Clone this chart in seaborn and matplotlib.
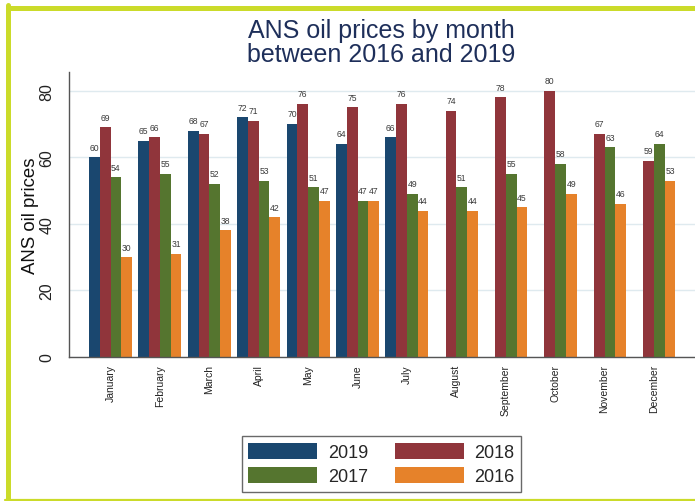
import matplotlib
matplotlib.use("Agg")
import matplotlib.pyplot as plt
from matplotlib.lines import Line2D
import numpy as np
import pandas as pd
import seaborn as sns

sns.set_style("white")
plt.rcParams["font.family"] = ["Liberation Sans", "DejaVu Sans"]

months = ["January", "February", "March", "April", "May", "June", "July",
          "August", "September", "October", "November", "December"]
years = ["2019", "2018", "2017", "2016"]
p2019 = [60, 65, 68, 72, 70, 64, 66, np.nan, np.nan, np.nan, np.nan, np.nan]
p2018 = [69, 66, 67, 71, 76, 75, 76, 74, 78, 80, 67, 59]
p2017 = [54, 55, 52, 53, 51, 47, 49, 51, 55, 58, 63, 64]
p2016 = [30, 31, 38, 42, 47, 47, 44, 44, 45, 49, 46, 53]
palette = {"2019": "#1a476f", "2018": "#90353b", "2017": "#55752f", "2016": "#e6822a"}

df = pd.DataFrame({"month": months, "2019": p2019, "2018": p2018,
                   "2017": p2017, "2016": p2016})
long = df.melt(id_vars="month", var_name="year", value_name="price")

fig = plt.figure(figsize=(6.95, 5.02), dpi=100)
ax = fig.add_axes([69 / 695, 1 - 358 / 502, 626 / 695, (358 - 73) / 502])

sns.barplot(data=long, x="month", y="price", hue="year", hue_order=years,
            order=months, palette=palette, width=0.87, errorbar=None,
            saturation=1, linewidth=0, ax=ax)

# value labels above each bar
for cont in ax.containers:
    labels = [f"{v:.0f}" if np.isfinite(v) else "" for v in cont.datavalues]
    ax.bar_label(cont, labels=labels, padding=4, fontsize=6.2, color="#3a3a3a")

ax.set_ylim(0, 85.6)
ax.set_xlim(-0.84, 11.83)
ax.set_yticks([0, 20, 40, 60, 80])
ax.yaxis.grid(True, color="#dfeaef", lw=1)
ax.set_axisbelow(True)
for s in ["top", "right"]:
    ax.spines[s].set_visible(False)
for s in ["left", "bottom"]:
    ax.spines[s].set_color("#555555")
    ax.spines[s].set_linewidth(1)

ax.tick_params(axis="y", length=6.5, width=1, color="#666666", labelsize=11.5,
               pad=4, labelcolor="#222222")
for t in ax.get_yticklabels():
    t.set_rotation(90)
    t.set_va("center")
ax.tick_params(axis="x", length=0, pad=5, labelsize=7.5, labelcolor="#222222")
for t in ax.get_xticklabels():
    t.set_rotation(90)

ax.set_xlabel("")
ax.set_ylabel("ANS oil prices", fontsize=13.4, color="#111111")
ax.yaxis.set_label_coords(-0.048, 0.5)

handles, labs = ax.get_legend_handles_labels()
ax.get_legend().remove()
hmap = dict(zip(labs, handles))
order = ["2019", "2017", "2018", "2016"]
leg = fig.legend([hmap[k] for k in order], order, ncol=2, loc="center",
                 bbox_to_anchor=(381.5 / 695, 1 - 465 / 502), fontsize=13,
                 frameon=True, fancybox=False, handlelength=3.8,
                 handleheight=1.0, handletextpad=0.6, columnspacing=1.5,
                 labelspacing=0.35, borderpad=0.35)
leg.get_frame().set_edgecolor("#444444")
leg.get_frame().set_linewidth(1)

fig.text(381 / 695, 1 - 43 / 502, "ANS oil prices by month\nbetween 2016 and 2019",
         ha="center", va="center", fontsize=18, color="#1e2f5a", linespacing=1.05)

# lime frame around the figure
lime = "#cbdb2a"
fig.add_artist(Line2D([7.5 / 695, 1.0], [1 - 8.5 / 502, 1 - 8.5 / 502],
                      color=lime, lw=3.6, transform=fig.transFigure))
fig.add_artist(Line2D([7.5 / 695, 7.5 / 695], [1 - 6 / 502, 1 - 500.5 / 502],
                      color=lime, lw=3.6, transform=fig.transFigure))
fig.add_artist(Line2D([5 / 695, 1.0], [1 - 500.5 / 502, 1 - 500.5 / 502],
                      color=lime, lw=1.6, transform=fig.transFigure))

fig.savefig("out.png", dpi=100)
